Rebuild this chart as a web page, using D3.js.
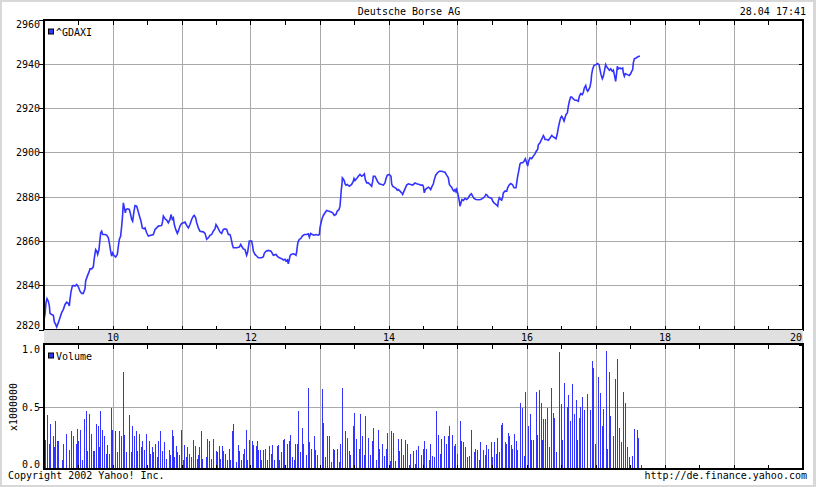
<!DOCTYPE html>
<html><head><meta charset="utf-8">
<script src="https://cdn.jsdelivr.net/npm/d3@7"></script>
<style>html,body{margin:0;padding:0;background:#fff;}svg{display:block;}text{font-family:"DejaVu Sans Mono","Liberation Mono",monospace;font-size:10px;fill:#000;}</style>
</head><body><div id="chart"></div>
<script>
// ---- data ----
const title = "Deutsche Borse AG";
const stamp = "28.04 17:41";
const symbol = "^GDAXI";
const priceTicks = [2820, 2840, 2860, 2880, 2900, 2920, 2940, 2960];
const hourTicks = [10, 12, 14, 16, 18, 20];
const volTicks = [0, 0.5, 1.0];
const priceTime = [9.007,9.022,9.036,9.051,9.070,9.085,9.094,9.118,9.143,9.157,9.176,9.191,9.215,9.239,9.263,9.288,9.312,9.336,9.360,9.374,9.384,9.399,9.418,9.432,9.457,9.481,9.505,9.529,9.553,9.577,9.601,9.611,9.635,9.659,9.674,9.698,9.722,9.737,9.756,9.771,9.785,9.804,9.819,9.829,9.843,9.858,9.891,9.916,9.940,9.954,9.973,9.988,10.003,10.022,10.046,10.070,10.085,10.099,10.118,10.133,10.147,10.157,10.172,10.186,10.196,10.215,10.244,10.263,10.278,10.292,10.312,10.326,10.350,10.365,10.384,10.399,10.413,10.432,10.457,10.471,
10.495,10.519,10.544,10.592,10.616,10.640,10.664,10.713,10.727,10.737,10.761,10.785,10.809,10.833,10.848,10.867,10.882,10.896,10.916,10.940,10.954,10.978,11.002,11.027,11.051,11.075,11.099,11.123,11.147,11.172,11.186,11.205,11.220,11.244,11.268,11.316,11.341,11.365,11.389,11.413,11.437,11.461,11.486,11.500,11.519,11.534,11.558,11.582,11.606,11.630,11.655,11.679,11.703,11.717,11.737,11.751,11.800,11.838,11.858,11.872,11.896,11.920,
11.930,11.944,11.959,11.973,11.983,12.017,12.031,12.041,12.065,12.089,12.114,12.162,12.186,12.200,12.225,12.258,12.297,12.316,12.331,12.370,12.394,12.418,12.452,12.476,12.500,12.514,12.534,12.548,12.563,12.572,12.587,12.621,12.645,12.659,12.669,12.679,12.688,12.708,12.727,12.751,12.780,12.814,12.838,12.853,12.872,12.896,12.920,12.949,12.983,12.998,13.007,13.022,13.041,13.056,13.080,13.104,13.128,13.162,13.191,13.215,13.239,13.258,13.283,13.297,13.307,13.316,13.326,13.331,13.345,13.360,
13.370,13.384,13.403,13.432,13.466,13.490,13.500,13.515,13.539,13.563,13.587,13.611,13.635,13.650,13.664,13.684,13.708,13.732,13.756,13.771,13.780,13.804,13.829,13.843,13.867,13.901,13.925,13.949,13.964,13.983,14.012,14.036,14.046,14.060,14.080,14.109,14.128,14.143,14.167,14.191,14.205,14.225,14.239,14.263,14.288,14.321,14.350,14.370,14.384,14.408,14.447,14.471,14.495,14.505,14.519,14.534,14.553,14.577,14.592,14.611,14.626,14.650,14.664,14.684,14.708,14.737,14.771,14.795,14.819,
14.843,14.867,14.882,14.901,14.916,14.930,14.949,14.964,14.978,14.988,15.002,15.012,15.027,15.036,15.051,15.065,15.085,15.109,15.133,15.157,15.181,15.201,15.220,15.239,15.268,15.302,15.336,15.365,15.389,15.413,15.428,15.447,15.471,15.495,15.510,15.529,15.543,15.568,15.582,15.592,15.606,15.626,15.640,15.655,15.664,15.688,15.713,15.727,15.746,15.771,15.795,15.819,15.848,15.858,15.872,15.887,15.906,15.920,15.945,15.964,15.983,16.002,16.017,16.031,16.051,16.075,16.099,16.123,16.147,16.162,16.172,16.196,16.210,16.230,16.244,16.259,16.268,
16.292,16.317,16.341,16.365,16.389,16.413,16.428,16.447,16.461,16.476,16.495,16.510,16.524,16.544,16.558,16.573,16.592,16.606,16.621,16.640,16.655,16.679,16.703,16.727,16.751,16.766,16.785,16.809,16.824,16.838,16.858,16.872,16.887,16.906,16.920,16.935,16.944,16.959,16.978,17.007,17.031,17.051,17.065,17.080,17.099,17.114,17.128,17.147,17.162,17.176,17.201,17.220,17.244,17.259,17.273,17.292,17.307,17.316,17.331,17.355,17.370,17.394,17.403,17.418,17.432,17.461,17.490,17.510,17.524,17.539,17.548,17.563,17.587,17.611,17.631,17.645];
const priceValue = [2824.6,2826.8,2832.1,2833.9,2832.8,2830.6,2827.3,2826.8,2826.4,2823.4,2822.3,2821.1,2823.1,2825.3,2827.6,2829.1,2831.3,2832.4,2831.8,2830.6,2833.6,2837.1,2839.6,2839.9,2839.6,2840.3,2839.3,2837.3,2836.3,2836.3,2838.4,2841.9,2844.1,2845.9,2847.4,2847.4,2848.3,2852.4,2856.1,2855.4,2853.9,2856.1,2860.7,2863.7,2864.4,2862.9,2862.9,2862.6,2861.4,2859.1,2855.4,2853.1,2854.6,2853.4,2852.7,2853.9,2857.7,2860.7,2862.2,2866.7,2871.9,2877.2,2874.9,2872.7,2874.2,2874.5,2874.2,2871.9,2869.7,2868.9,2873.5,2876.0,2875.7,2874.2,2871.9,2870.4,2868.9,2865.9,2865.5,2865.9,
2863.7,2862.2,2862.5,2862.9,2865.2,2865.9,2866.7,2867.0,2868.9,2871.2,2870.0,2869.4,2868.2,2869.7,2871.9,2869.7,2870.4,2867.4,2865.2,2863.4,2864.4,2866.7,2867.9,2868.2,2868.5,2867.0,2865.9,2867.4,2869.7,2871.2,2871.5,2870.4,2868.2,2865.9,2864.4,2864.1,2863.4,2860.7,2861.4,2862.5,2862.9,2864.4,2865.5,2867.4,2866.4,2865.5,2864.0,2863.4,2865.2,2865.5,2865.2,2862.9,2862.9,2861.4,2858.4,2856.9,2856.9,2857.2,2858.4,2857.6,2856.4,2856.1,
2855.0,2853.5,2855.0,2858.0,2859.9,2859.9,2857.7,2855.4,2853.9,2853.2,2852.4,2852.4,2852.9,2854.4,2855.4,2855.7,2855.4,2854.4,2853.5,2853.9,2852.9,2852.4,2852.0,2851.4,2851.7,2850.9,2851.4,2849.7,2851.7,2853.2,2853.9,2854.2,2853.9,2853.5,2855.0,2857.7,2859.5,2860.7,2861.0,2862.2,2862.9,2862.9,2863.2,2861.7,2863.4,2862.9,2862.6,2862.9,2862.6,2862.9,2865.9,2868.2,2870.4,2871.5,2872.7,2873.8,2873.5,2873.2,2872.7,2871.5,2872.0,2873.5,2874.2,2875.7,2879.5,2883.2,2885.5,2888.5,2888.0,2887.0,
2885.8,2885.2,2885.5,2884.7,2885.5,2887.0,2888.2,2887.3,2888.2,2889.2,2890.0,2889.2,2889.7,2890.3,2887.7,2886.2,2886.2,2885.5,2884.7,2887.0,2889.2,2889.2,2887.7,2886.7,2885.8,2885.5,2885.2,2886.2,2888.2,2889.7,2890.0,2889.2,2885.8,2884.7,2884.3,2883.7,2882.9,2883.2,2882.5,2881.7,2881.0,2882.5,2883.5,2885.2,2885.8,2885.5,2885.2,2885.8,2886.2,2885.8,2885.5,2885.2,2885.2,2884.7,2881.7,2883.2,2883.7,2884.3,2884.0,2883.2,2884.3,2885.8,2887.7,2889.7,2890.7,2891.5,2891.5,2891.2,2891.0,
2889.7,2888.5,2885.5,2884.7,2884.3,2883.2,2882.5,2883.2,2882.2,2883.2,2881.7,2880.2,2877.9,2875.7,2877.2,2878.7,2878.3,2879.2,2878.7,2879.5,2880.7,2881.3,2880.2,2879.2,2878.7,2878.6,2878.7,2879.2,2879.8,2881.0,2880.7,2879.8,2879.5,2879.2,2878.0,2877.2,2876.8,2876.2,2875.7,2878.0,2879.5,2878.7,2878.4,2879.8,2881.7,2882.5,2882.5,2884.0,2885.2,2885.9,2885.5,2884.0,2884.0,2886.2,2889.2,2891.5,2894.8,2895.3,2895.3,2896.0,2897.1,2895.3,2893.8,2896.0,2897.5,2897.1,2898.3,2899.3,2900.8,2901.3,2903.5,2904.3,2905.3,2906.5,2907.6,2906.8,2905.8,
2905.8,2905.5,2906.5,2907.6,2907.0,2906.5,2906.1,2908.5,2911.1,2913.3,2915.6,2916.3,2915.6,2914.1,2915.6,2917.1,2917.8,2920.8,2923.1,2925.0,2925.0,2924.1,2923.5,2923.5,2923.1,2925.3,2926.5,2926.1,2927.1,2929.1,2930.2,2928.3,2927.6,2928.6,2929.6,2932.1,2935.1,2937.7,2939.2,2939.6,2940.1,2939.6,2937.4,2935.1,2933.3,2934.4,2936.6,2939.6,2938.6,2938.1,2937.1,2937.7,2936.6,2937.1,2935.1,2932.1,2935.9,2938.9,2937.7,2938.1,2937.7,2938.1,2935.9,2934.4,2935.6,2935.1,2934.7,2935.6,2936.6,2937.4,2940.4,2942.2,2942.6,2943.1,2943.4,2943.4];
const volTime = [9.007,9.022,9.056,9.085,9.099,9.133,9.147,9.172,9.191,9.215,9.268,9.288,9.331,9.370,9.399,9.423,9.466,9.481,9.505,9.534,9.563,9.592,9.621,9.635,9.660,9.684,9.713,9.737,9.756,9.785,9.804,9.824,9.853,9.882,9.906,9.925,9.954,9.978,9.993,10.036,10.060,10.099,10.118,10.157,10.172,10.196,10.244,10.268,10.288,10.312,10.341,10.360,10.384,10.408,10.428,10.461,10.481,10.529,10.548,10.568,10.592,10.611,10.640,10.655,10.693,10.722,10.742,10.780,10.819,10.833,10.858,10.877,10.891,10.920,10.940,10.964,10.993,11.017,11.031,11.060,11.085,11.104,11.143,11.172,11.196,11.220,11.244,11.259,11.288,11.302,11.350,11.374,11.394,11.428,11.461,11.500,11.519,11.539,11.563,11.587,11.606,11.630,11.655,11.684,11.708,11.732,11.746,11.795,11.819,11.838,11.862,11.887,11.911,11.940,11.954,11.983,12.022,12.041,12.075,12.094,12.114,12.138,12.157,12.186,12.205,12.234,12.273,12.292,12.317,12.341,12.379,12.399,12.418,12.442,12.471,12.486,12.534,12.553,12.577,12.601,12.630,12.645,12.669,12.693,
12.717,12.746,12.766,12.804,12.833,12.853,12.882,12.925,12.940,12.969,13.036,13.056,13.085,13.114,13.143,13.172,13.201,13.215,13.254,13.287,13.302,13.331,13.374,13.403,13.423,13.447,13.490,13.505,13.529,13.577,13.592,13.621,13.650,13.664,13.708,13.737,13.766,13.780,13.824,13.853,13.867,13.911,13.940,13.959,13.983,14.027,14.041,14.070,14.099,14.143,14.157,14.186,14.215,14.244,14.273,14.302,14.316,14.360,14.389,14.403,14.432,14.476,14.505,14.519,14.548,14.592,14.606,14.635,14.664,14.693,14.722,14.751,14.766,14.809,14.838,14.867,14.882,14.925,14.954,14.969,14.998,15.041,15.056,15.085,15.114,15.143,15.172,15.201,15.244,15.258,15.287,15.316,15.331,15.374,15.403,15.418,15.447,15.490,15.505,15.534,15.563,15.577,15.606,
15.626,15.650,15.688,15.703,15.737,15.751,15.770,15.785,15.824,15.848,15.867,15.906,15.935,15.964,15.978,16.022,16.051,16.065,16.089,16.138,16.147,16.186,16.210,16.229,16.244,16.268,16.302,16.331,16.355,16.389,16.403,16.428,16.476,16.505,16.519,16.548,16.582,16.606,16.630,16.664,16.688,16.717,16.727,16.756,16.780,16.809,16.838,16.872,16.882,16.920,16.949,16.969,16.998,17.041,17.065,17.089,17.109,17.152,17.172,17.196,17.210,17.258,17.287,17.307,17.316,17.336,17.374,17.403,17.428,17.452,17.490,17.534,17.563,17.601,17.621,17.655];
const volValue = [0.56,0.23,0.43,0.20,0.36,0.26,0.17,0.38,0.22,0.22,0.07,0.20,0.28,0.15,0.30,0.26,0.20,0.32,0.22,0.31,0.07,0.40,0.46,0.14,0.44,0.28,0.14,0.14,0.36,0.34,0.17,0.46,0.31,0.26,0.12,0.19,0.12,0.49,0.31,0.30,0.13,0.30,0.26,0.78,0.27,0.13,0.43,0.13,0.34,0.26,0.30,0.14,0.28,0.17,0.22,0.15,0.28,0.22,0.12,0.17,0.13,0.20,0.09,0.22,0.30,0.14,0.21,0.08,0.15,0.11,0.31,0.26,0.09,0.18,0.13,0.11,0.31,0.07,0.19,0.09,0.17,0.12,0.09,0.23,0.18,0.08,0.11,0.17,0.30,0.08,0.09,0.24,0.22,0.08,0.24,0.14,0.13,0.18,0.08,0.18,0.14,0.12,0.07,0.16,0.07,0.30,0.36,0.05,0.19,0.14,0.07,0.12,0.16,0.31,0.07,0.23,0.22,0.19,0.18,0.22,0.15,0.15,0.07,0.15,0.16,0.07,0.18,0.12,0.19,0.07,0.18,0.19,0.07,0.13,0.23,0.24,0.20,0.22,0.27,0.09,0.07,0.20,0.20,0.46,
0.13,0.33,0.20,0.11,0.65,0.21,0.16,0.26,0.15,0.11,0.64,0.37,0.09,0.26,0.26,0.05,0.16,0.15,0.16,0.05,0.20,0.65,0.30,0.25,0.14,0.11,0.34,0.45,0.24,0.16,0.44,0.26,0.11,0.42,0.25,0.11,0.22,0.33,0.07,0.31,0.16,0.20,0.10,0.16,0.29,0.06,0.30,0.29,0.06,0.24,0.14,0.24,0.11,0.23,0.20,0.03,0.12,0.14,0.04,0.15,0.18,0.11,0.16,0.22,0.16,0.07,0.20,0.10,0.09,0.46,0.27,0.12,0.24,0.26,0.20,0.26,0.34,0.27,0.18,0.20,0.12,0.38,0.22,0.21,0.17,0.09,0.10,0.31,0.13,0.16,0.15,0.07,0.21,0.15,0.11,0.19,0.16,0.21,0.09,0.21,0.12,0.25,0.13,
0.35,0.37,0.21,0.20,0.29,0.26,0.19,0.16,0.28,0.22,0.15,0.53,0.49,0.10,0.62,0.34,0.44,0.23,0.23,0.62,0.27,0.63,0.53,0.23,0.40,0.40,0.49,0.17,0.65,0.45,0.41,0.13,0.94,0.52,0.23,0.69,0.50,0.59,0.38,0.68,0.44,0.55,0.23,0.41,0.50,0.58,0.47,0.60,0.19,0.47,0.87,0.81,0.20,0.74,0.61,0.34,0.48,0.95,0.16,0.78,0.42,0.26,0.72,0.63,0.88,0.33,0.21,0.62,0.53,0.17,0.09,0.10,0.32,0.31,0.25,0.03];

// ---- drawing ----
const W = 816, H = 487;
const BLUE = "#3333ff", GRID = "#aaaaaa";
const svg = d3.select("#chart").append("svg").attr("width", W).attr("height", H);
svg.append("rect").attr("x",0).attr("y",0).attr("width",W).attr("height",H).attr("fill","#d8d8d8");
svg.append("rect").attr("x",2).attr("y",2).attr("width",W-5).attr("height",H-4).attr("fill","#ffffff");

const L = 44, R = 803;
const x = d3.scaleLinear().domain([9, 20]).range([43.5, 802.5]);
const yP = d3.scaleLinear().domain([2820, 2960]).range([329.5, 19.5]);
const yV = d3.scaleLinear().domain([0, 1]).range([468.5, 344.5]);
const halfHours = d3.range(9.5, 20.01, 0.5);
const fullHours = d3.range(10, 20, 1);

function panel(y0, y1, yScale, yGrid) {
  const g = svg.append("g").attr("shape-rendering", "crispEdges");
  g.append("rect").attr("x", L).attr("y", y0).attr("width", R - L).attr("height", y1 - y0).attr("fill", "#fff");
  g.selectAll(".vg").data(fullHours).join("line")
    .attr("x1", d => Math.round(x(d)) + 0.5).attr("x2", d => Math.round(x(d)) + 0.5)
    .attr("y1", y0).attr("y2", y1).attr("stroke", GRID).attr("stroke-width", 1);
  g.selectAll(".hg").data(yGrid).join("line")
    .attr("x1", L).attr("x2", R)
    .attr("y1", d => Math.round(yScale(d)) + 0.5).attr("y2", d => Math.round(yScale(d)) + 0.5)
    .attr("stroke", GRID).attr("stroke-width", 1);
  return g;
}
function frame(y0, y1, yScale, leftTicks, rightTicks) {
  const g = svg.append("g").attr("shape-rendering", "crispEdges");
  g.selectAll(".tt").data(halfHours).join("line")
    .attr("x1", d => Math.round(x(d)) + 0.5).attr("x2", d => Math.round(x(d)) + 0.5)
    .attr("y1", y0).attr("y2", y0 + 5).attr("stroke", "#000");
  g.selectAll(".tb").data(halfHours).join("line")
    .attr("x1", d => Math.round(x(d)) + 0.5).attr("x2", d => Math.round(x(d)) + 0.5)
    .attr("y1", y1 - 4).attr("y2", y1).attr("stroke", "#000");
  g.selectAll(".tl").data(leftTicks).join("line")
    .attr("x1", L - 5).attr("x2", L)
    .attr("y1", d => Math.round(yScale(d)) + 0.5).attr("y2", d => Math.round(yScale(d)) + 0.5).attr("stroke", "#000");
  g.selectAll(".tr").data(rightTicks).join("line")
    .attr("x1", R - 4).attr("x2", R)
    .attr("y1", d => Math.round(yScale(d)) + 0.5).attr("y2", d => Math.round(yScale(d)) + 0.5).attr("stroke", "#000");
  g.append("rect").attr("x", L).attr("y", y0).attr("width", R - L).attr("height", y1 - y0)
    .attr("fill", "none").attr("stroke", "#000").attr("stroke-width", 2);
}

// price panel
const pTop = 20, pBot = 330;
panel(pTop, pBot, yP, priceTicks.slice(1, -1));
const line = d3.line().x((d, i) => x(priceTime[i])).y(d => yP(d));
svg.append("path").datum(priceValue).attr("d", line)
  .attr("fill", "none").attr("stroke", BLUE).attr("stroke-width", 1.6).attr("stroke-linejoin", "miter");
frame(pTop, pBot, yP, priceTicks, priceTicks);

// hour band
svg.append("rect").attr("x", L).attr("y", pBot).attr("width", R - L).attr("height", 14).attr("fill", "#e0e0e0");
svg.selectAll(".hl").data(hourTicks).join("text")
  .attr("x", d => d === 20 ? R - 1 : x(d) + 0.5).attr("y", 341)
  .attr("text-anchor", d => d === 20 ? "end" : "middle").text(d => d);

// volume panel
const vTop = 344, vBot = 469;
panel(vTop, vBot, yV, [0.5]);
svg.append("g").attr("shape-rendering", "crispEdges").selectAll("rect").data(volValue).join("rect")
  .attr("x", (d, i) => Math.round(x(volTime[i]))).attr("width", 1)
  .attr("y", d => yV(d)).attr("height", d => yV(0) - yV(d)).attr("fill", BLUE);
frame(vTop, vBot, yV, [0.5], volTicks);

// y labels
svg.selectAll(".pl").data(priceTicks).join("text")
  .attr("x", 40).attr("text-anchor", "end")
  .attr("y", d => d === 2960 ? yP(d) + 8 : d === 2820 ? yP(d) - 1 : yP(d) + 4).text(d3.format("d"));
svg.selectAll(".vl").data(volTicks).join("text")
  .attr("x", 40).attr("text-anchor", "end")
  .attr("y", d => d === 1 ? yV(d) + 8 : d === 0 ? yV(d) - 1 : yV(d) + 4).text(d3.format(".1f"));
svg.append("text").attr("transform", "translate(17,407) rotate(-90)").attr("text-anchor", "middle").text("x1000000");

// legends
function legend(yy, label) {
  svg.append("rect").attr("x", 48.5).attr("y", yy - 6.5).attr("width", 5).attr("height", 5)
    .attr("fill", BLUE).attr("stroke", "#000").attr("stroke-width", 1);
  svg.append("text").attr("x", 56).attr("y", yy).text(label);
}
legend(35.5, symbol);
legend(359.5, "Volume");

// header & footer
svg.append("text").attr("x", 409).attr("y", 15).attr("text-anchor", "middle").text(title);
svg.append("text").attr("x", 806).attr("y", 15).attr("text-anchor", "end").text(stamp);
svg.append("text").attr("x", 8).attr("y", 479).text("Copyright 2002 Yahoo! Inc.");
svg.append("text").attr("x", 807).attr("y", 479).attr("text-anchor", "end").text("http://de.finance.yahoo.com");
</script></body></html>
